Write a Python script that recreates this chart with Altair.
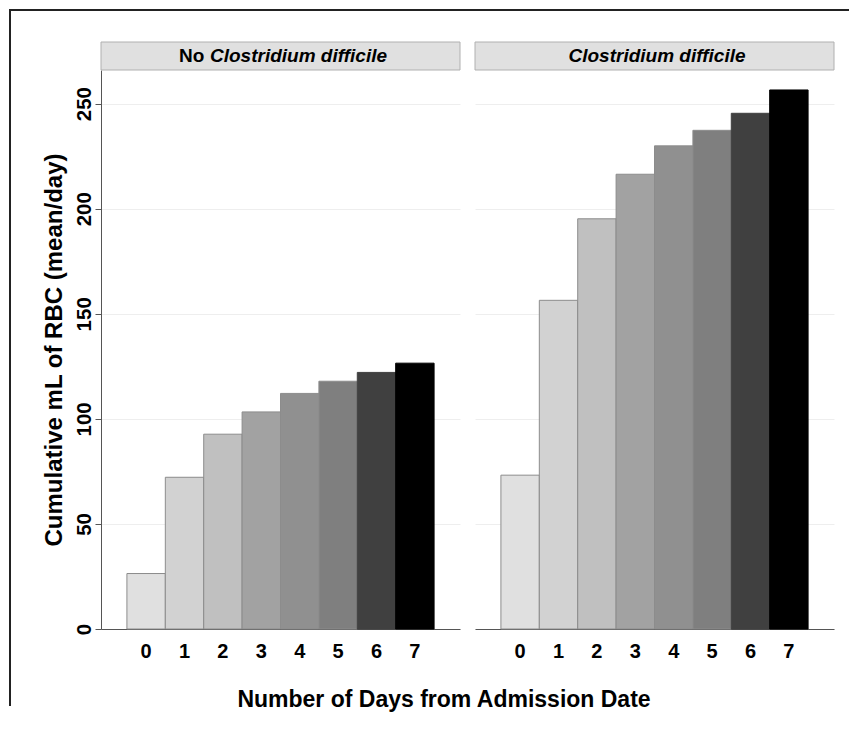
import altair as alt
import pandas as pd

# ---- data ----
days = [0, 1, 2, 3, 4, 5, 6, 7]
no_cdiff = [26.4, 72.2, 92.7, 103.3, 112.1, 117.9, 122.1, 126.5]
cdiff = [73.2, 156.4, 195.2, 216.4, 229.9, 237.3, 245.4, 256.5]
bar_fills = ["#e0e0e0", "#d2d2d2", "#c0c0c0", "#a2a2a2", "#909090", "#7f7f7f", "#404040", "#000000"]
bar_strokes = ["#8c8c8c"] * 6 + ["#404040", "#000000"]
y_ticks = [0, 50, 100, 150, 200, 250]
y_title = "Cumulative mL of RBC (mean/day)"
x_title = "Number of Days from Admission Date"
organism = "Clostridium difficile"
left_prefix = "No"

FONT = "Liberation Sans, Arial, sans-serif"
W, H = 359, 559
YMAX = 266
one = pd.DataFrame({"k": [0]})


def bars(values, show_axis):
    df = pd.DataFrame({"Day": days, "mL": values})
    if show_axis:
        yaxis = alt.Axis(values=y_ticks, title=y_title, grid=True, gridColor="#eeeeee",
                         labelAngle=270, labelAlign="center", labelBaseline="alphabetic",
                         labelFontSize=20.5, labelFontWeight="bold", labelFont=FONT,
                         labelColor="black", labelPadding=5, tickSize=6, tickColor="#555555",
                         domainColor="#555555", titleFont=FONT, titleFontSize=24,
                         titleFontWeight="bold", titleColor="black", titlePadding=8)
    else:
        yaxis = alt.Axis(values=y_ticks, title=None, labels=False, ticks=False, domain=False,
                         grid=True, gridColor="#eeeeee")
    return alt.Chart(df).mark_bar(strokeWidth=1).encode(
        x=alt.X("Day:O", scale=alt.Scale(paddingInner=0, paddingOuter=0.675),
                axis=alt.Axis(title=None, labelAngle=0, labelFontSize=20, labelFontWeight="bold",
                              labelFont=FONT, labelColor="black", ticks=False, tickSize=0,
                              labelPadding=12, domainColor="#555555", grid=False)),
        y=alt.Y("mL:Q", scale=alt.Scale(domain=[0, YMAX], nice=False, zero=True), axis=yaxis),
        color=alt.Color("Day:O", scale=alt.Scale(domain=days, range=bar_fills), legend=None),
        stroke=alt.Stroke("Day:O", scale=alt.Scale(domain=days, range=bar_strokes), legend=None),
    )


def header_box():
    return alt.Chart(one).mark_rect(fill="#e0e0e0", stroke="#b0b0b0", strokeWidth=1).encode(
        x=alt.value(0), x2=alt.value(W), y=alt.value(-28), y2=alt.value(0))


def htext(text, x, align, style):
    df = pd.DataFrame({"t": [text]})
    return alt.Chart(df).mark_text(font=FONT, fontSize=19, fontWeight="bold", fontStyle=style,
                                   align=align, baseline="middle", color="black").encode(
        text="t:N", x=alt.value(x), y=alt.value(-14))


frame_v = alt.Chart(one).mark_rule(color="#222222", strokeWidth=2).encode(
    x=alt.value(-91), y=alt.value(-61), y2=alt.value(636))
frame_h = alt.Chart(one).mark_rule(color="#222222", strokeWidth=2).encode(
    x=alt.value(-92), x2=alt.value(748), y=alt.value(-60))

xt = alt.Chart(pd.DataFrame({"t": [x_title]})).mark_text(
    font=FONT, fontSize=23, fontWeight="bold", align="center", baseline="middle", color="black"
).encode(text="t:N", x=alt.value(343), y=alt.value(630))

left = alt.layer(
    bars(no_cdiff, True),
    header_box(),
    htext(left_prefix, 78, "left", "normal"),
    htext(organism, 109, "left", "italic"),
    frame_v, frame_h, xt,
).properties(width=W, height=H)

right = alt.layer(
    bars(cdiff, False),
    header_box(),
    htext(organism, 182, "center", "italic"),
).properties(width=W, height=H)

chart = alt.hconcat(left, right, spacing=15, bounds="flush").properties(
    padding=0
).configure(font=FONT).configure_view(stroke=None)

chart.save("out.html", embed_options={"renderer": "svg", "actions": False})
